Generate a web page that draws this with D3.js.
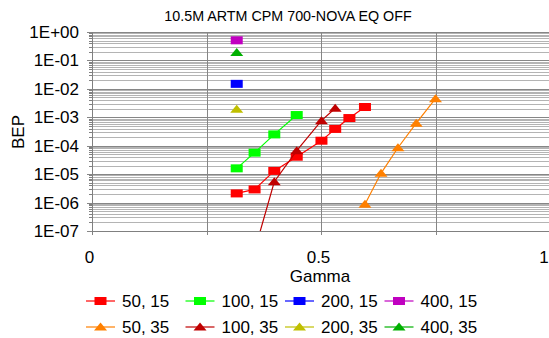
<!DOCTYPE html>
<html>
<head>
<meta charset="utf-8">
<script src="https://cdn.jsdelivr.net/npm/d3@7"></script>
<style>
  body { margin: 0; background: #fff; }
  text { font-family: "Liberation Sans", Arial, sans-serif; fill: #000; }
</style>
</head>
<body>
<script>
// data
var series = ["50, 15", "100, 15", "200, 15", "400, 15", "50, 35", "100, 35", "200, 35", "400, 35"];
var colors = ["#ff0000", "#00ff00", "#0000ff", "#c000c0", "#ff8000", "#c00000", "#bfbf00", "#00b000"];
var shapes = ["square", "square", "square", "square", "triangle", "triangle", "triangle", "triangle"];

var gamma_50_15 = [0.316, 0.355, 0.398, 0.447, 0.501, 0.531, 0.562, 0.596];
var bep_50_15 = [2.1e-6, 2.9e-6, 1.3e-5, 4.1e-5, 1.5e-4, 3.9e-4, 9.4e-4, 2.3e-3];
var gamma_100_15 = [0.316, 0.355, 0.398, 0.447];
var bep_100_15 = [1.6e-5, 5.7e-5, 2.5e-4, 1.2e-3];
var gamma_200_15 = [0.316];
var bep_200_15 = [1.5e-2];
var gamma_400_15 = [0.316];
var bep_400_15 = [0.51];
var gamma_50_35 = [0.596, 0.631, 0.668, 0.708, 0.750];
var bep_50_35 = [8.7e-7, 1.07e-5, 8.5e-5, 6.2e-4, 4.5e-3];
var gamma_100_35 = [0.355, 0.398, 0.447, 0.501, 0.531];
var bep_100_35 = [2e-8, 5.4e-6, 6.7e-5, 7.6e-4, 2.07e-3];
var gamma_200_35 = [0.316];
var bep_200_35 = [1.9e-3];
var gamma_400_35 = [0.316];
var bep_400_35 = [0.19];

var xTicks = [0, 0.25, 0.5, 0.75, 1];
var xLabels = [0, 0.5, 1];
var yTicks = [1, 1e-1, 1e-2, 1e-3, 1e-4, 1e-5, 1e-6, 1e-7];
var yLabels = ["1E+00", "1E-01", "1E-02", "1E-03", "1E-04", "1E-05", "1E-06", "1E-07"];

var gammas = [gamma_50_15, gamma_100_15, gamma_200_15, gamma_400_15, gamma_50_35, gamma_100_35, gamma_200_35, gamma_400_35];
var beps = [bep_50_15, bep_100_15, bep_200_15, bep_400_15, bep_50_35, bep_100_35, bep_200_35, bep_400_35];

var width = 549, height = 338;
var pLeft = 92, pRight = 550, pTop = 32, pBottom = 231;

var svg = d3.select("body").append("svg")
    .attr("width", width)
    .attr("height", height);

var x = d3.scaleLinear().domain([0, 1]).range([pLeft, pRight]);
var y = d3.scaleLog().domain([1e-7, 1]).range([pBottom, pTop]);

// minor gridlines 2..9 of every decade
var minor = [];
for (var e = -7; e < 0; e++) {
    for (var k = 2; k <= 9; k++) minor.push(k * Math.pow(10, e));
}
svg.append("g").selectAll("line").data(minor).join("line")
    .attr("x1", pLeft).attr("x2", pRight)
    .attr("y1", d => Math.round(y(d)) + 0.5).attr("y2", d => Math.round(y(d)) + 0.5)
    .attr("stroke", "#b4b4b4").attr("stroke-width", 1);
svg.append("g").selectAll("line").data(minor).join("line")
    .attr("x1", pLeft - 3).attr("x2", pLeft)
    .attr("y1", d => Math.round(y(d)) + 0.5).attr("y2", d => Math.round(y(d)) + 0.5)
    .attr("stroke", "#808080");

// major gridlines
svg.append("g").selectAll("line").data(yTicks).join("line")
    .attr("x1", pLeft - 5).attr("x2", pRight)
    .attr("y1", d => Math.round(y(d)) + 0.5).attr("y2", d => Math.round(y(d)) + 0.5)
    .attr("stroke", "#868686").attr("stroke-width", 1);
svg.append("g").selectAll("line").data(xTicks.slice(1)).join("line")
    .attr("x1", d => Math.round(x(d)) + 0.5).attr("x2", d => Math.round(x(d)) + 0.5)
    .attr("y1", pTop).attr("y2", pBottom + 4)
    .attr("stroke", "#868686");

// axes lines
svg.append("line").attr("x1", pLeft + 0.5).attr("x2", pLeft + 0.5)
    .attr("y1", pTop).attr("y2", pBottom + 4).attr("stroke", "#808080");
svg.append("line").attr("x1", pLeft).attr("x2", pRight)
    .attr("y1", pBottom + 0.5).attr("y2", pBottom + 0.5).attr("stroke", "#808080");

// tick labels
svg.append("g").selectAll("text").data(yTicks).join("text")
    .attr("x", 79).attr("y", d => y(d) + 6)
    .attr("text-anchor", "end").attr("font-size", 17)
    .text((d, i) => yLabels[i]);
svg.append("g").selectAll("text").data(xLabels).join("text")
    .attr("x", d => Math.min(x(d) - 2.5, 544)).attr("y", 263)
    .attr("text-anchor", "middle").attr("font-size", 17)
    .text(d => d);

// titles
svg.append("text").attr("x", 288).attr("y", 21).attr("text-anchor", "middle")
    .attr("font-size", 14.3).text("10.5M ARTM CPM 700-NOVA EQ OFF");
svg.append("text").attr("transform", "translate(24,132) rotate(-90)")
    .attr("text-anchor", "middle").attr("font-size", 17).text("BEP");
svg.append("text").attr("x", 320).attr("y", 282).attr("text-anchor", "middle")
    .attr("font-size", 17).text("Gamma");

// series
svg.append("clipPath").attr("id", "plotclip").append("rect")
    .attr("x", pLeft).attr("y", pTop - 10).attr("width", pRight - pLeft).attr("height", pBottom - pTop + 10);

var plot = svg.append("g").attr("clip-path", "url(#plotclip)");
var line = d3.line().x(d => x(d[0])).y(d => y(d[1]));

function marker(g, shape, color) {
    if (shape === "square") {
        g.append("rect").attr("x", -6).attr("y", -4).attr("width", 12).attr("height", 8)
            .attr("fill", color);
    } else {
        g.append("path").attr("d", "M0,-4.5L6.5,3.5L-6.5,3.5Z").attr("fill", color);
    }
}

series.forEach(function (name, i) {
    var pts = gammas[i].map((g, j) => [g, beps[i][j]]);
    plot.append("path").datum(pts).attr("d", line)
        .attr("fill", "none").attr("stroke", colors[i]).attr("stroke-width", 1.2);
    plot.selectAll(null).data(pts).join("g")
        .attr("transform", d => "translate(" + x(d[0]) + "," + y(d[1]) + ")")
        .each(function () { marker(d3.select(this), shapes[i], colors[i]); });
});

// legend
var legend = svg.append("g");
series.forEach(function (name, i) {
    var col = i % 4, row = Math.floor(i / 4);
    var lx = 86 + col * 99.5, ly = 301 + row * 26;
    var g = legend.append("g").attr("transform", "translate(" + lx + "," + ly + ")");
    g.append("line").attr("x1", 0).attr("x2", 29).attr("y1", 0).attr("y2", 0)
        .attr("stroke", colors[i]).attr("stroke-width", 1.2);
    var m = g.append("g").attr("transform", "translate(14.5,0)");
    marker(m, shapes[i], colors[i]);
    g.append("text").attr("x", 36).attr("y", 6).attr("font-size", 17).text(name);
});
</script>
</body>
</html>
